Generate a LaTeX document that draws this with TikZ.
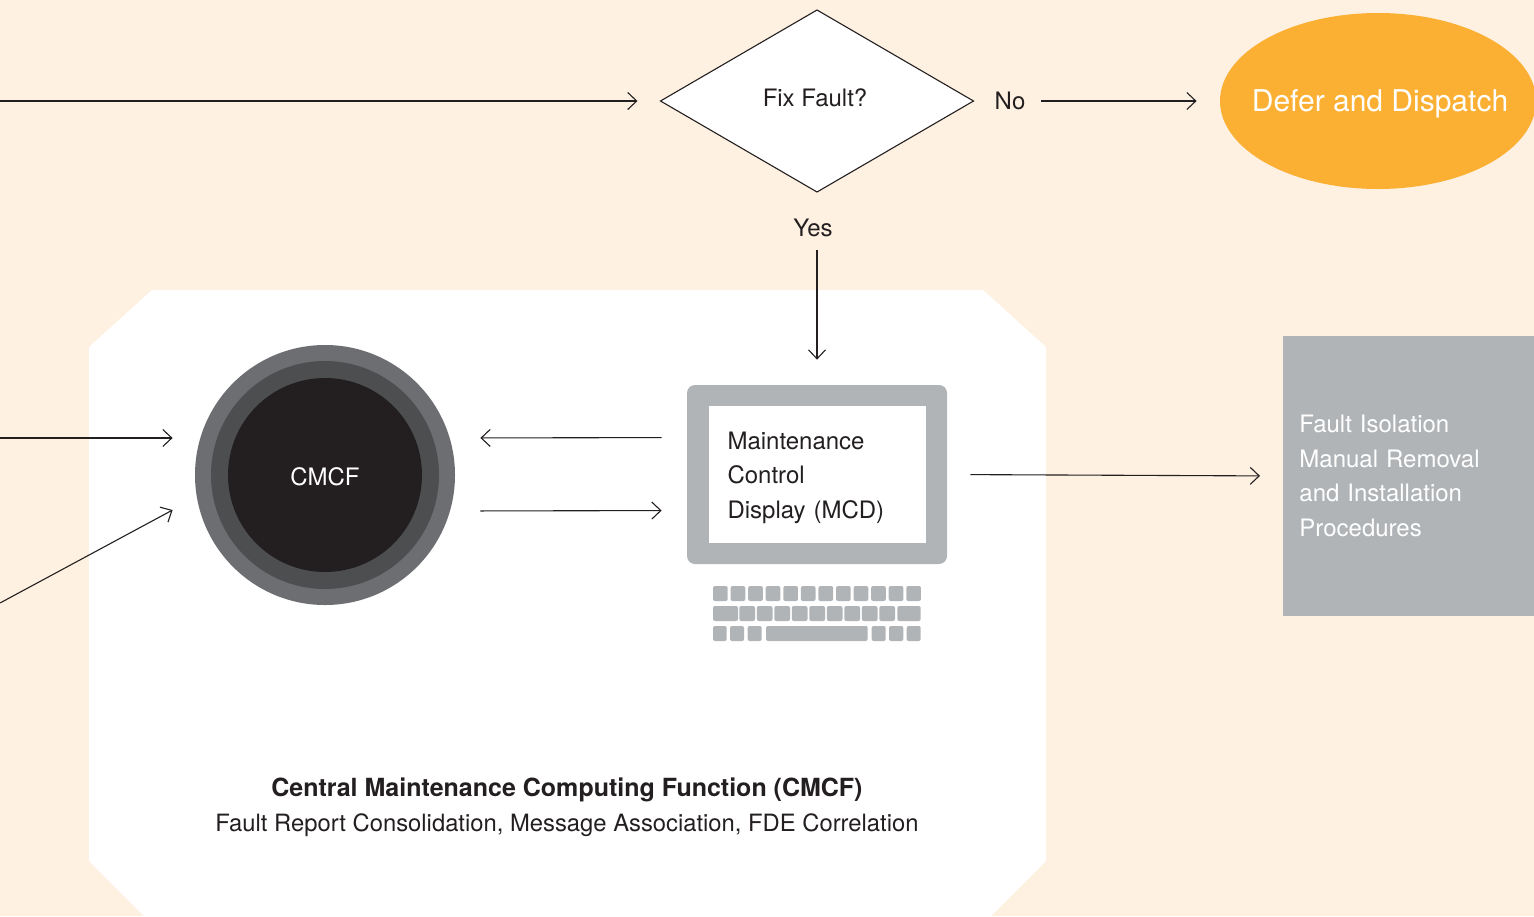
\documentclass[tikz,border=0pt]{standalone}
\usepackage{fontspec}
\setmainfont{TeX Gyre Heros}
\usetikzlibrary{shapes.geometric,arrows.meta}
\definecolor{bgpeach}{HTML}{FEF1E1}
\definecolor{deferorange}{HTML}{FBB034}
\definecolor{panelgray}{HTML}{B1B4B7}
\definecolor{ringouter}{HTML}{6D6E71}
\definecolor{ringmid}{HTML}{4D4E50}
\definecolor{corefill}{HTML}{231F20}
\definecolor{inkdark}{HTML}{231F20}

\begin{document}
\begin{tikzpicture}[x=0.5pt, y=-0.5pt,
        arr/.style={draw=inkdark, line width=0.55pt, -{Straight Barb[length=4.5pt, width=8.5pt, line width=0.55pt]}},
        lbl/.style={text=inkdark, font=\fontsize{12}{17.3}\selectfont},
        key/.style={fill=panelgray, rounded corners=1pt}]
        \useasboundingbox (0,0) rectangle (1534,916);
        \fill[bgpeach] (0,0) rectangle (1534,916);
        \fill[white] (89,347) -- (152,290) -- (983,290) -- (1046,347) -- (1046,861) -- (989,918) -- (146,918) -- (89,861) -- cycle;

        \node[diamond, draw=inkdark, fill=white, line width=0.55pt, aspect=1.72, minimum width=156.5pt, minimum height=91pt, inner sep=0pt, outer sep=0pt] (fix) at (817,101) {};
        \node[lbl] (fixtext) at ([shift={(-2,-3)}]fix) {Fix Fault?};
        \node[ellipse, fill=deferorange, minimum width=158pt, minimum height=88pt, inner sep=0pt] (defer) at (1378,101) {};
        \node[text=white, font=\fontsize{15}{18}\selectfont] (defertext) at ([shift={(2,3)}]defer) {Defer and Dispatch};
        \node[lbl] (no) at (1010,101) {No};
        \node[lbl] (yes) at (813,228) {Yes};

        \node[circle, fill=ringouter, minimum size=130pt, inner sep=0pt] (cmcf) at (325,475) {};
        \node[circle, fill=ringmid, minimum size=114pt, inner sep=0pt] (ring) at (cmcf) {};
        \node[circle, fill=corefill, minimum size=97pt, inner sep=0pt] (core) at (cmcf) {};
        \node[lbl, text=white] (coretext) at ([shift={(0,2)}]core) {CMCF};

        \node[fill=panelgray, rounded corners=4pt, minimum width=130pt, minimum height=89.5pt] (mcd) at (817,474.5) {};
        \node[fill=white, minimum width=108.5pt, minimum height=68.5pt] (screen) at (mcd) {};
        \node[text width=89.5pt, align=left, lbl] (screentext) at ([shift={(0,3)}]screen) {Maintenance\\Control\\Display (MCD)};

        \foreach \i in {0,...,11}
            \fill[key] ({713+\i*17.57},586) rectangle ++(14.7,15);
        \fill[key] (713,606) rectangle (738,621);
        \foreach \i in {0,...,8}
            \fill[key] ({739.3+\i*17.5},606) rectangle ++(15.7,15);
        \fill[key] (897.3,606) rectangle (920.7,621);
        \foreach \a/\b in {713/726.7, 730/744, 747.7/761.7, 766/867.7, 871.7/885.7, 889/903.3, 906.7/920.7}
            \fill[key] (\a,626) rectangle (\b,641);

        \node[fill=panelgray, minimum width=135pt, minimum height=140pt, text width=119pt, inner xsep=8pt, align=left, anchor=west, lbl, text=white] (fim) at (1283,476) {Fault Isolation\\Manual Removal\\and Installation\\Procedures};

        \node[align=center, lbl] (title) at (567,807) {{\fontsize{12.5}{17.3}\selectfont\bfseries Central Maintenance Computing Function (CMCF)}\\{\fontsize{11.9}{17.3}\selectfont Fault Report Consolidation, Message Association, FDE Correlation}};

        \coordinate (srcA) at (0,101);
        \coordinate (srcB) at (0,438);
        \coordinate (srcC) at (0,603);

        \draw[arr, shorten >=11.5pt] (srcA) -- (fix.west);
        \draw[arr, shorten <=4.5pt, shorten >=11.5pt] (no.east) -- (defer.west);
        \draw[arr, shorten <=2.75pt, shorten >=12.5pt] (yes.south -| mcd.north) -- (mcd.north);
        \draw[arr, shorten >=11pt] (srcB) -- (srcB -| cmcf.west);
        \draw[arr] (srcC) -- ([shift={(-22,35)}]cmcf.west);
        \draw[arr, shorten <=12.5pt, shorten >=12.5pt] ([shift={(0,-37)}]mcd.west) -- ([shift={(0,-37)}]cmcf.east);
        \draw[arr, shorten <=12.5pt, shorten >=12.5pt] ([shift={(0,36)}]cmcf.east) -- ([shift={(0,36)}]mcd.west);
        \draw[arr, shorten <=11.5pt, shorten >=11.5pt] (mcd.east) -- (fim.west);
    \end{tikzpicture}
\end{document}
